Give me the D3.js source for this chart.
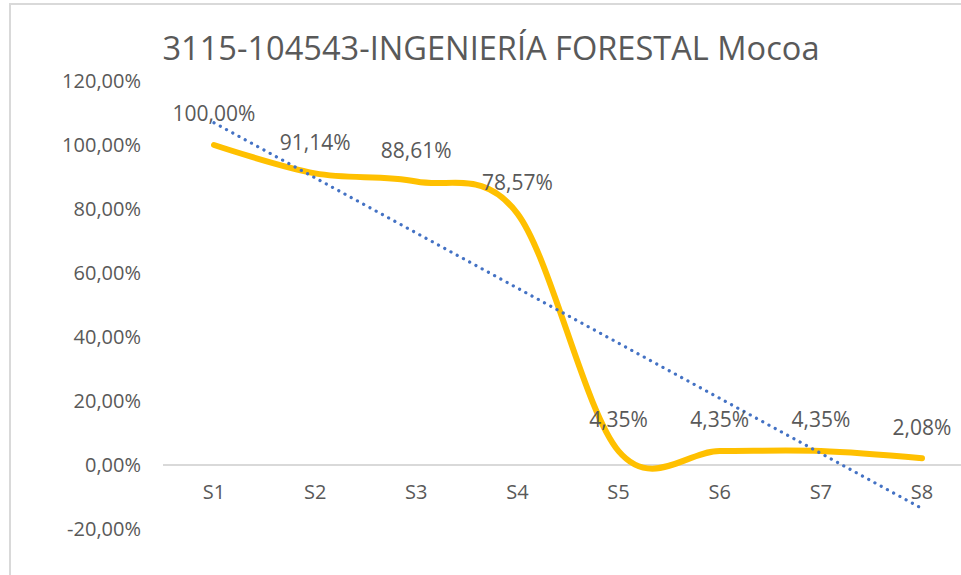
<!DOCTYPE html>
<html>
<head>
<meta charset="utf-8">
<script src="https://cdn.jsdelivr.net/npm/d3@7"></script>
<style>
  body { margin: 0; background: #fff; }
  text { font-family: "Open Sans", sans-serif; fill: #595959; }
</style>
</head>
<body>
<svg id="chart" width="961" height="575"></svg>
<script>
const title = '3115-104543-INGENIERÍA FORESTAL Mocoa';
const categories = ['S1', 'S2', 'S3', 'S4', 'S5', 'S6', 'S7', 'S8'];
const values = [1.0, 0.9114, 0.8861, 0.7857, 0.0435, 0.0435, 0.0435, 0.0208];
const yTicks = [-0.2, 0, 0.2, 0.4, 0.6, 0.8, 1.0, 1.2];

const svg = d3.select('#chart');
const width = 961;
const height = 575;

// chart frame (only top and left edges are visible in the crop)
svg.append('path')
  .attr('d', `M10,${height} V4 H${width}`)
  .attr('fill', 'none')
  .attr('stroke', '#d9d9d9')
  .attr('stroke-width', 2);

svg.append('text')
  .attr('x', 491)
  .attr('y', 60)
  .attr('text-anchor', 'middle')
  .attr('font-size', 32)
  .attr('textLength', 657)
  .attr('lengthAdjust', 'spacingAndGlyphs')
  .text(title);

const x = d3.scalePoint()
  .domain(categories)
  .range([214, 922]);

const y = d3.scaleLinear()
  .domain([-0.2, 1.2])
  .range([529, 81]);

// Excel style: comma decimal, plain hyphen for negatives
const pct = d => (d * 100).toFixed(2).replace('.', ',') + '%';

// y tick labels
svg.append('g')
  .selectAll('text')
  .data(yTicks)
  .enter()
  .append('text')
  .attr('x', 141)
  .attr('y', d => y(d))
  .attr('dy', '0.35em')
  .attr('text-anchor', 'end')
  .attr('font-size', 20)
  .text(pct);

// zero line
svg.append('line')
  .attr('x1', 163)
  .attr('x2', width)
  .attr('y1', y(0))
  .attr('y2', y(0))
  .attr('stroke', '#d9d9d9')
  .attr('stroke-width', 2);

// category labels
svg.append('g')
  .selectAll('text')
  .data(categories)
  .enter()
  .append('text')
  .attr('x', d => x(d))
  .attr('y', y(0) + 34)
  .attr('text-anchor', 'middle')
  .attr('font-size', 20)
  .text(d => d);

// series
const pts = categories.map((c, i) => [x(c), y(values[i])]);

svg.append('path')
  .datum(pts)
  .attr('fill', 'none')
  .attr('stroke', '#FFC000')
  .attr('stroke-width', 6)
  .attr('stroke-linecap', 'round')
  .attr('d', d3.line().curve(d3.curveCatmullRom.alpha(0)));

// linear trendline (least squares over index 1..n)
const n = values.length;
const idx = d3.range(1, n + 1);
const mx = d3.mean(idx);
const my = d3.mean(values);
const slope = d3.sum(idx, (k, i) => (k - mx) * (values[i] - my)) / d3.sum(idx, k => (k - mx) ** 2);
const icpt = my - slope * mx;

svg.append('line')
  .attr('x1', x(categories[0]))
  .attr('y1', y(icpt + slope * 1))
  .attr('x2', x(categories[n - 1]))
  .attr('y2', y(icpt + slope * n))
  .attr('stroke', '#4472C4')
  .attr('stroke-width', 3.2)
  .attr('stroke-linecap', 'round')
  .attr('stroke-dasharray', '0.1 7');

// data labels
svg.append('g')
  .selectAll('text')
  .data(values)
  .enter()
  .append('text')
  .attr('x', (d, i) => x(categories[i]))
  .attr('y', d => y(d) - 31)
  .attr('dy', '0.35em')
  .attr('text-anchor', 'middle')
  .attr('font-size', 21)
  .text(pct);
</script>
</body>
</html>
